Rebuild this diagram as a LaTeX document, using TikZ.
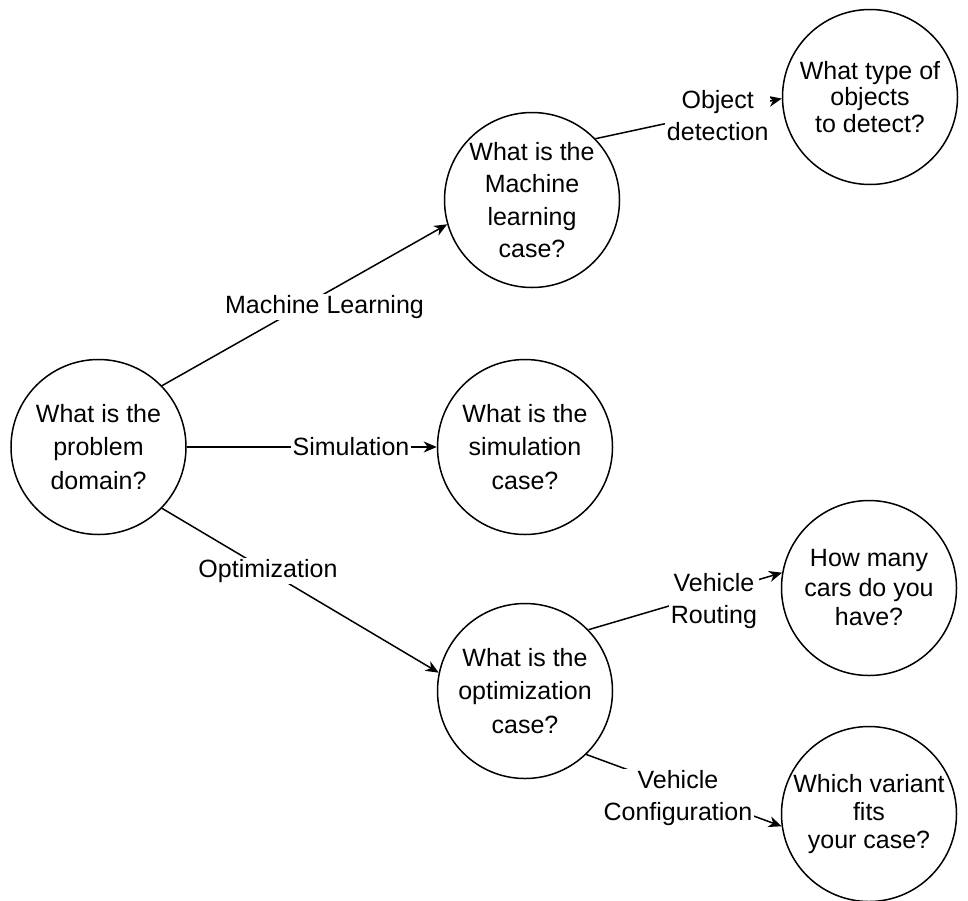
\documentclass[tikz,border=0pt]{standalone}
\usepackage{fontspec}
\setmainfont{Liberation Sans}
\usetikzlibrary{arrows.meta}
\begin{document}
\begin{tikzpicture}[x=1pt,y=-1pt,
  question/.style={circle,draw,line width=1.5pt,minimum size=175pt,inner sep=0pt,
    align=center,font=\fontsize{25}{33.5}\selectfont},
  link/.style={line width=1.5pt,-{Stealth[length=13pt,width=11pt,inset=4pt]}},
  lbl/.style={fill=white,inner sep=1.5pt,align=center,font=\fontsize{25}{32}\selectfont}]
\useasboundingbox[fill=white] (0,0) rectangle (968,900);

% question nodes
\node[question] (dom) at (98.5,447) {What is the\\problem\\domain?};
\node[question,font=\fontsize{25}{32.5}\selectfont] (ml) at (532,200) {What is the\\Machine\\learning\\case?};
\node[question] (sim) at (525,447) {What is the\\simulation\\case?};
\node[question] (opt) at (525,691) {What is the\\optimization\\case?};
\node[question,font=\fontsize{25}{26.5}\selectfont] (obj) at (870,97) {What type of\\objects\\to detect?};
\node[question,font=\fontsize{25}{29.5}\selectfont] (cars) at (869,588) {How many\\cars do you\\have?};
\node[question,font=\fontsize{25}{28}\selectfont] (var) at (869,814) {Which variant\\fits\\your case?};

% branches
\draw[link] (dom.44) -- node[lbl,pos=0.57,yshift=-13pt] {Machine Learning} (ml.196);
\draw[link] (dom.east) -- node[lbl,pos=0.657] {Simulation} (sim.west);
\draw[link] (dom.-44) -- node[lbl,pos=0.383] {Optimization} (opt.168);
\draw[link] (ml.44) -- node[lbl,pos=0.656,yshift=-3pt] {Object\\detection} (obj.181);
\draw[link] (opt.44.5) -- node[lbl,pos=0.648,yshift=-8pt] {Vehicle\\Routing} (cars.170);
\draw[link] (opt.-46) -- node[lbl,pos=0.469,yshift=-10pt] {Vehicle\\Configuration} (var.188.5);
\end{tikzpicture}
\end{document}
